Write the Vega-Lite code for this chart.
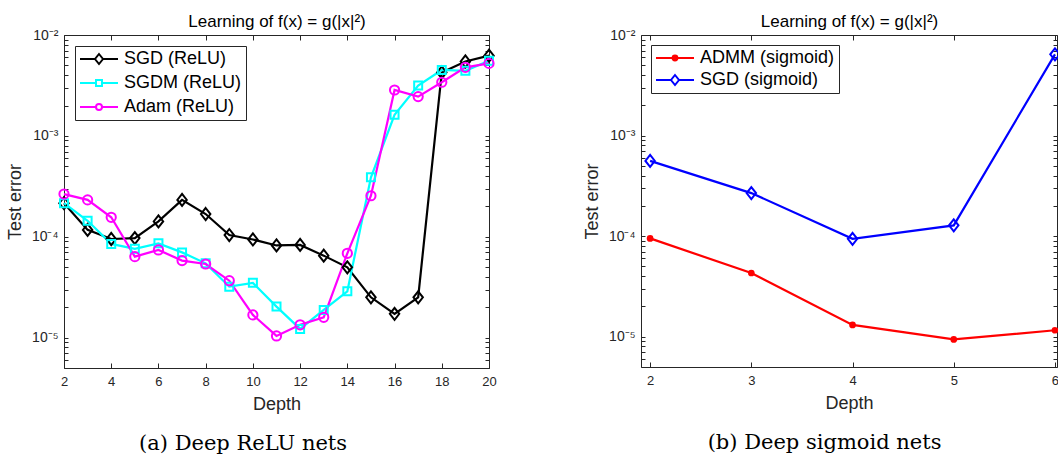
{
  "$schema": "https://vega.github.io/schema/vega-lite/v6.json",
  "background": "white",
  "autosize": {"type": "pad"},
  "padding": {"left": 6, "top": 12, "right": 2, "bottom": 2},
  "datasets": {
    "relu": [
      {"series": "SGD (ReLU)", "depth": 2, "err": 0.000215},
      {"series": "SGD (ReLU)", "depth": 3, "err": 0.000117},
      {"series": "SGD (ReLU)", "depth": 4, "err": 0.000095},
      {"series": "SGD (ReLU)", "depth": 5, "err": 0.000097},
      {"series": "SGD (ReLU)", "depth": 6, "err": 0.000142},
      {"series": "SGD (ReLU)", "depth": 7, "err": 0.000232},
      {"series": "SGD (ReLU)", "depth": 8, "err": 0.000168},
      {"series": "SGD (ReLU)", "depth": 9, "err": 0.000104},
      {"series": "SGD (ReLU)", "depth": 10, "err": 0.000094},
      {"series": "SGD (ReLU)", "depth": 11, "err": 0.000082},
      {"series": "SGD (ReLU)", "depth": 12, "err": 0.000083},
      {"series": "SGD (ReLU)", "depth": 13, "err": 0.000065},
      {"series": "SGD (ReLU)", "depth": 14, "err": 0.0000498},
      {"series": "SGD (ReLU)", "depth": 15, "err": 0.0000251},
      {"series": "SGD (ReLU)", "depth": 16, "err": 0.0000172},
      {"series": "SGD (ReLU)", "depth": 17, "err": 0.0000251},
      {"series": "SGD (ReLU)", "depth": 18, "err": 0.00426},
      {"series": "SGD (ReLU)", "depth": 19, "err": 0.00547},
      {"series": "SGD (ReLU)", "depth": 20, "err": 0.00624},
      {"series": "SGDM (ReLU)", "depth": 2, "err": 0.000215},
      {"series": "SGDM (ReLU)", "depth": 3, "err": 0.000144},
      {"series": "SGDM (ReLU)", "depth": 4, "err": 0.000085},
      {"series": "SGDM (ReLU)", "depth": 5, "err": 0.000076},
      {"series": "SGDM (ReLU)", "depth": 6, "err": 0.000086},
      {"series": "SGDM (ReLU)", "depth": 7, "err": 0.00007},
      {"series": "SGDM (ReLU)", "depth": 8, "err": 0.0000545},
      {"series": "SGDM (ReLU)", "depth": 9, "err": 0.000032},
      {"series": "SGDM (ReLU)", "depth": 10, "err": 0.0000349},
      {"series": "SGDM (ReLU)", "depth": 11, "err": 0.0000203},
      {"series": "SGDM (ReLU)", "depth": 12, "err": 0.0000122},
      {"series": "SGDM (ReLU)", "depth": 13, "err": 0.0000188},
      {"series": "SGDM (ReLU)", "depth": 14, "err": 0.0000288},
      {"series": "SGDM (ReLU)", "depth": 15, "err": 0.000388},
      {"series": "SGDM (ReLU)", "depth": 16, "err": 0.00162},
      {"series": "SGDM (ReLU)", "depth": 17, "err": 0.00315},
      {"series": "SGDM (ReLU)", "depth": 18, "err": 0.0045},
      {"series": "SGDM (ReLU)", "depth": 19, "err": 0.00442},
      {"series": "SGDM (ReLU)", "depth": 20, "err": 0.00556},
      {"series": "Adam (ReLU)", "depth": 2, "err": 0.000265},
      {"series": "Adam (ReLU)", "depth": 3, "err": 0.000232},
      {"series": "Adam (ReLU)", "depth": 4, "err": 0.000156},
      {"series": "Adam (ReLU)", "depth": 5, "err": 0.0000635},
      {"series": "Adam (ReLU)", "depth": 6, "err": 0.000074},
      {"series": "Adam (ReLU)", "depth": 7, "err": 0.000058},
      {"series": "Adam (ReLU)", "depth": 8, "err": 0.0000537},
      {"series": "Adam (ReLU)", "depth": 9, "err": 0.0000367},
      {"series": "Adam (ReLU)", "depth": 10, "err": 0.0000168},
      {"series": "Adam (ReLU)", "depth": 11, "err": 0.0000104},
      {"series": "Adam (ReLU)", "depth": 12, "err": 0.0000134},
      {"series": "Adam (ReLU)", "depth": 13, "err": 0.0000159},
      {"series": "Adam (ReLU)", "depth": 14, "err": 0.0000685},
      {"series": "Adam (ReLU)", "depth": 15, "err": 0.000255},
      {"series": "Adam (ReLU)", "depth": 16, "err": 0.00285},
      {"series": "Adam (ReLU)", "depth": 17, "err": 0.00245},
      {"series": "Adam (ReLU)", "depth": 18, "err": 0.0034},
      {"series": "Adam (ReLU)", "depth": 19, "err": 0.00478},
      {"series": "Adam (ReLU)", "depth": 20, "err": 0.00523}
    ],
    "sigmoid": [
      {"series": "ADMM (sigmoid)", "depth": 2, "err": 0.000095},
      {"series": "ADMM (sigmoid)", "depth": 3, "err": 0.000043},
      {"series": "ADMM (sigmoid)", "depth": 4, "err": 0.0000131},
      {"series": "ADMM (sigmoid)", "depth": 5, "err": 0.0000094},
      {"series": "ADMM (sigmoid)", "depth": 6, "err": 0.0000116},
      {"series": "SGD (sigmoid)", "depth": 2, "err": 0.00056},
      {"series": "SGD (sigmoid)", "depth": 3, "err": 0.000268},
      {"series": "SGD (sigmoid)", "depth": 4, "err": 0.000094},
      {"series": "SGD (sigmoid)", "depth": 5, "err": 0.000128},
      {"series": "SGD (sigmoid)", "depth": 6, "err": 0.00642}
    ]
  },
  "hconcat": [
    {
      "width": 425,
      "height": 333,
      "data": {"name": "relu"},
      "title": {"text": "(a) Deep ReLU nets", "orient": "bottom", "font": "DejaVu Serif", "fontSize": 21, "fontWeight": "normal", "color": "black", "frame": "bounds", "anchor": "middle", "offset": 20, "dx": -9},
      "layer": [
        {
          "mark": {"type": "line", "strokeWidth": 2.2},
          "encoding": {
            "x": {"field": "depth", "type": "quantitative", "scale": {"domain": [2, 20], "nice": false, "zero": false},
                  "axis": {"values": [2, 4, 6, 8, 10, 12, 14, 16, 18, 20], "title": "Depth", "tickSize": -5, "labelPadding": 12, "titlePadding": 7}},
            "y": {"field": "err", "type": "quantitative", "scale": {"type": "log", "domain": [0.000005, 0.01], "nice": false},
                  "axis": {"values": [0.000005, 0.000006, 0.000007, 0.000008, 0.000009, 0.00001, 0.00002, 0.00003, 0.00004, 0.00005, 0.00006, 0.00007, 0.00008, 0.00009, 0.0001, 0.0002, 0.0003, 0.0004, 0.0005, 0.0006, 0.0007, 0.0008, 0.0009, 0.001, 0.002, 0.003, 0.004, 0.005, 0.006, 0.007, 0.008, 0.009, 0.01],
                           "labelExpr": "datum.value == 0.01 ? '10⁻²' : datum.value == 0.001 ? '10⁻³' : datum.value == 0.0001 ? '10⁻⁴' : datum.value == 0.00001 ? '10⁻⁵' : ''",
                           "labelFontSize": 14, "title": "Test error", "tickSize": -4, "labelPadding": 10, "titlePadding": 7}},
            "color": {"field": "series", "type": "nominal", "scale": {"domain": ["SGD (ReLU)", "SGDM (ReLU)", "Adam (ReLU)"], "range": ["#000000", "#00FFFF", "#FF00FF"]},
                      "legend": {"title": null, "orient": "top-left", "offset": 11, "labelFontSize": 18, "labelFont": "Liberation Sans", "labelColor": "black", "strokeColor": "#262626", "fillColor": "white", "padding": 4, "rowPadding": 6, "labelOffset": 27, "symbolSize": 256, "symbolStrokeWidth": 2, "symbolFillColor": "transparent", "labelLimit": 300}}
          }
        },
        {
          "transform": [{"filter": "datum.series == 'SGD (ReLU)'"}],
          "mark": {"type": "point", "shape": "M0,-1.15L0.9,0L0,1.15L-0.9,0Z", "size": 110, "filled": false, "color": "#000000", "strokeWidth": 2, "opacity": 1},
          "encoding": {
            "x": {"field": "depth", "type": "quantitative", "scale": {"domain": [2, 20], "nice": false, "zero": false}, "axis": null},
            "y": {"field": "err", "type": "quantitative", "scale": {"type": "log", "domain": [0.000005, 0.01], "nice": false}, "axis": null}
          }
        },
        {
          "transform": [{"filter": "datum.series == 'SGDM (ReLU)'"}],
          "mark": {"type": "point", "shape": "square", "size": 64, "filled": false, "color": "#00FFFF", "strokeWidth": 2, "opacity": 1},
          "encoding": {
            "x": {"field": "depth", "type": "quantitative", "scale": {"domain": [2, 20], "nice": false, "zero": false}, "axis": null},
            "y": {"field": "err", "type": "quantitative", "scale": {"type": "log", "domain": [0.000005, 0.01], "nice": false}, "axis": null}
          }
        },
        {
          "transform": [{"filter": "datum.series == 'Adam (ReLU)'"}],
          "mark": {"type": "point", "shape": "circle", "size": 85, "filled": false, "color": "#FF00FF", "strokeWidth": 2, "opacity": 1},
          "encoding": {
            "x": {"field": "depth", "type": "quantitative", "scale": {"domain": [2, 20], "nice": false, "zero": false}, "axis": null},
            "y": {"field": "err", "type": "quantitative", "scale": {"type": "log", "domain": [0.000005, 0.01], "nice": false}, "axis": null}
          }
        },
        {
          "transform": [{"filter": "false"}],
          "mark": {"type": "point", "filled": false, "strokeWidth": 2, "size": 256, "opacity": 1},
          "encoding": {
            "x": {"field": "depth", "type": "quantitative", "scale": {"domain": [2, 20], "nice": false, "zero": false}, "axis": null},
            "y": {"field": "err", "type": "quantitative", "scale": {"type": "log", "domain": [0.000005, 0.01], "nice": false}, "axis": null},
            "color": {"field": "series", "type": "nominal", "scale": {"domain": ["SGD (ReLU)", "SGDM (ReLU)", "Adam (ReLU)"], "range": ["#000000", "#00FFFF", "#FF00FF"]},
                      "legend": {"title": null, "orient": "top-left", "offset": 11, "labelFontSize": 18, "labelFont": "Liberation Sans", "labelColor": "black", "strokeColor": "#262626", "fillColor": "white", "padding": 4, "rowPadding": 6, "labelOffset": 27, "symbolSize": 256, "symbolStrokeWidth": 2, "symbolFillColor": "transparent", "labelLimit": 300}},
            "shape": {"field": "series", "type": "nominal", "scale": {"domain": ["SGD (ReLU)", "SGDM (ReLU)", "Adam (ReLU)"],
                      "range": ["M-1,0H0.875M1.875,0H3.75M1.375,-0.625L1.875,0L1.375,0.625L0.875,0Z", "M-1,0H1M1.75,0H3.75M1,-0.375H1.75V0.375H1Z", "M-1,0H1M1.75,0H3.75M1.75,0A0.375,0.375,0,1,1,1,0A0.375,0.375,0,1,1,1.75,0Z"]},
                      "legend": {"title": null, "orient": "top-left", "offset": 11, "labelFontSize": 18, "labelFont": "Liberation Sans", "labelColor": "black", "strokeColor": "#262626", "fillColor": "white", "padding": 4, "rowPadding": 6, "labelOffset": 27, "symbolSize": 256, "symbolStrokeWidth": 2, "symbolFillColor": "transparent", "labelLimit": 300}}
          }
        },
        {
          "mark": {"type": "point", "opacity": 0},
          "encoding": {
            "x": {"field": "depth", "type": "quantitative", "scale": {"domain": [2, 20], "nice": false, "zero": false},
                  "axis": {"orient": "top", "values": [2, 4, 6, 8, 10, 12, 14, 16, 18, 20], "labels": false, "title": "Learning of f(x) = g(|x|²)", "titleColor": "black", "titleFontSize": 17, "titlePadding": 4, "tickSize": -5}},
            "y": {"field": "err", "type": "quantitative", "scale": {"type": "log", "domain": [0.000005, 0.01], "nice": false},
                  "axis": {"orient": "right", "values": [0.000005, 0.000006, 0.000007, 0.000008, 0.000009, 0.00001, 0.00002, 0.00003, 0.00004, 0.00005, 0.00006, 0.00007, 0.00008, 0.00009, 0.0001, 0.0002, 0.0003, 0.0004, 0.0005, 0.0006, 0.0007, 0.0008, 0.0009, 0.001, 0.002, 0.003, 0.004, 0.005, 0.006, 0.007, 0.008, 0.009, 0.01], "labels": false, "title": null, "tickSize": -4}}
          }
        }
      ],
      "resolve": {"axis": {"x": "independent", "y": "independent"}}
    },
    {
      "width": 416,
      "height": 332,
      "data": {"name": "sigmoid"},
      "title": {"text": "(b) Deep sigmoid nets", "orient": "bottom", "font": "DejaVu Serif", "fontSize": 21, "fontWeight": "normal", "color": "black", "frame": "bounds", "anchor": "middle", "offset": 20, "dx": 1},
      "layer": [
        {
          "mark": {"type": "line", "strokeWidth": 2.2},
          "encoding": {
            "x": {"field": "depth", "type": "quantitative", "scale": {"domain": [1.91, 6.02], "nice": false, "zero": false},
                  "axis": {"values": [2, 3, 4, 5, 6], "title": "Depth", "tickSize": -5, "labelPadding": 12, "titlePadding": 7}},
            "y": {"field": "err", "type": "quantitative", "scale": {"type": "log", "domain": [0.000005, 0.01], "nice": false},
                  "axis": {"values": [0.000005, 0.000006, 0.000007, 0.000008, 0.000009, 0.00001, 0.00002, 0.00003, 0.00004, 0.00005, 0.00006, 0.00007, 0.00008, 0.00009, 0.0001, 0.0002, 0.0003, 0.0004, 0.0005, 0.0006, 0.0007, 0.0008, 0.0009, 0.001, 0.002, 0.003, 0.004, 0.005, 0.006, 0.007, 0.008, 0.009, 0.01],
                           "labelExpr": "datum.value == 0.01 ? '10⁻²' : datum.value == 0.001 ? '10⁻³' : datum.value == 0.0001 ? '10⁻⁴' : datum.value == 0.00001 ? '10⁻⁵' : ''",
                           "labelFontSize": 14, "title": "Test error", "tickSize": -4, "labelPadding": 10, "titlePadding": 7}},
            "color": {"field": "series", "type": "nominal", "scale": {"domain": ["ADMM (sigmoid)", "SGD (sigmoid)"], "range": ["#FF0000", "#0000FF"]},
                      "legend": {"title": null, "orient": "top-left", "offset": 10, "labelFontSize": 18, "labelFont": "Liberation Sans", "labelColor": "black", "strokeColor": "#262626", "fillColor": "white", "padding": 4, "rowPadding": 4, "labelOffset": 27, "symbolSize": 256, "symbolStrokeWidth": 2, "symbolFillColor": "transparent", "labelLimit": 300}}
          }
        },
        {
          "transform": [{"filter": "datum.series == 'ADMM (sigmoid)'"}],
          "mark": {"type": "point", "shape": "circle", "size": 45, "filled": true, "color": "#FF0000", "opacity": 1},
          "encoding": {
            "x": {"field": "depth", "type": "quantitative", "scale": {"domain": [1.91, 6.02], "nice": false, "zero": false}, "axis": null},
            "y": {"field": "err", "type": "quantitative", "scale": {"type": "log", "domain": [0.000005, 0.01], "nice": false}, "axis": null}
          }
        },
        {
          "transform": [{"filter": "datum.series == 'SGD (sigmoid)'"}],
          "mark": {"type": "point", "shape": "M0,-1.15L0.9,0L0,1.15L-0.9,0Z", "size": 110, "filled": false, "color": "#0000FF", "strokeWidth": 2, "opacity": 1},
          "encoding": {
            "x": {"field": "depth", "type": "quantitative", "scale": {"domain": [1.91, 6.02], "nice": false, "zero": false}, "axis": null},
            "y": {"field": "err", "type": "quantitative", "scale": {"type": "log", "domain": [0.000005, 0.01], "nice": false}, "axis": null}
          }
        },
        {
          "transform": [{"filter": "false"}],
          "mark": {"type": "point", "filled": false, "strokeWidth": 2, "size": 256, "opacity": 1},
          "encoding": {
            "x": {"field": "depth", "type": "quantitative", "scale": {"domain": [1.91, 6.02], "nice": false, "zero": false}, "axis": null},
            "y": {"field": "err", "type": "quantitative", "scale": {"type": "log", "domain": [0.000005, 0.01], "nice": false}, "axis": null},
            "color": {"field": "series", "type": "nominal", "scale": {"domain": ["ADMM (sigmoid)", "SGD (sigmoid)"], "range": ["#FF0000", "#0000FF"]},
                      "legend": {"title": null, "orient": "top-left", "offset": 10, "labelFontSize": 18, "labelFont": "Liberation Sans", "labelColor": "black", "strokeColor": "#262626", "fillColor": "white", "padding": 4, "rowPadding": 4, "labelOffset": 27, "symbolSize": 256, "symbolStrokeWidth": 2, "symbolFillColor": "transparent", "labelLimit": 300}},
            "shape": {"field": "series", "type": "nominal", "scale": {"domain": ["ADMM (sigmoid)", "SGD (sigmoid)"],
                      "range": ["M-1,0H3.75M1.675,0A0.3,0.3,0,1,1,1.075,0A0.3,0.3,0,1,1,1.675,0ZM1.475,0A0.1,0.1,0,1,1,1.275,0A0.1,0.1,0,1,1,1.475,0Z", "M-1,0H0.875M1.875,0H3.75M1.375,-0.625L1.875,0L1.375,0.625L0.875,0Z"]},
                      "legend": {"title": null, "orient": "top-left", "offset": 10, "labelFontSize": 18, "labelFont": "Liberation Sans", "labelColor": "black", "strokeColor": "#262626", "fillColor": "white", "padding": 4, "rowPadding": 4, "labelOffset": 27, "symbolSize": 256, "symbolStrokeWidth": 2, "symbolFillColor": "transparent", "labelLimit": 300}}
          }
        },
        {
          "mark": {"type": "point", "opacity": 0},
          "encoding": {
            "x": {"field": "depth", "type": "quantitative", "scale": {"domain": [1.91, 6.02], "nice": false, "zero": false},
                  "axis": {"orient": "top", "values": [2, 3, 4, 5, 6], "labels": false, "title": "Learning of f(x) = g(|x|²)", "titleColor": "black", "titleFontSize": 17, "titlePadding": 4, "tickSize": -5}},
            "y": {"field": "err", "type": "quantitative", "scale": {"type": "log", "domain": [0.000005, 0.01], "nice": false},
                  "axis": {"orient": "right", "values": [0.000005, 0.000006, 0.000007, 0.000008, 0.000009, 0.00001, 0.00002, 0.00003, 0.00004, 0.00005, 0.00006, 0.00007, 0.00008, 0.00009, 0.0001, 0.0002, 0.0003, 0.0004, 0.0005, 0.0006, 0.0007, 0.0008, 0.0009, 0.001, 0.002, 0.003, 0.004, 0.005, 0.006, 0.007, 0.008, 0.009, 0.01], "labels": false, "title": null, "tickSize": -4}}
          }
        }
      ],
      "resolve": {"axis": {"x": "independent", "y": "independent"}}
    }
  ],
  "spacing": 152,
  "bounds": "flush",
  "resolve": {
    "scale": {"x": "independent", "y": "independent", "color": "independent", "shape": "independent"},
    "legend": {"color": "independent", "shape": "independent"}
  },
  "config": {
    "font": "Liberation Sans",
    "view": {"stroke": null},
    "axis": {
      "grid": false,
      "domainColor": "#262626",
      "tickColor": "#262626",
      "labelColor": "#262626",
      "titleColor": "#262626",
      "labelFont": "Liberation Sans",
      "titleFont": "Liberation Sans",
      "labelFontSize": 13,
      "titleFontSize": 18,
      "titleFontWeight": "normal",
      "labelFlush": false,
      "labelOverlap": false,
      "domainWidth": 1,
      "tickWidth": 1
    }
  }
}
